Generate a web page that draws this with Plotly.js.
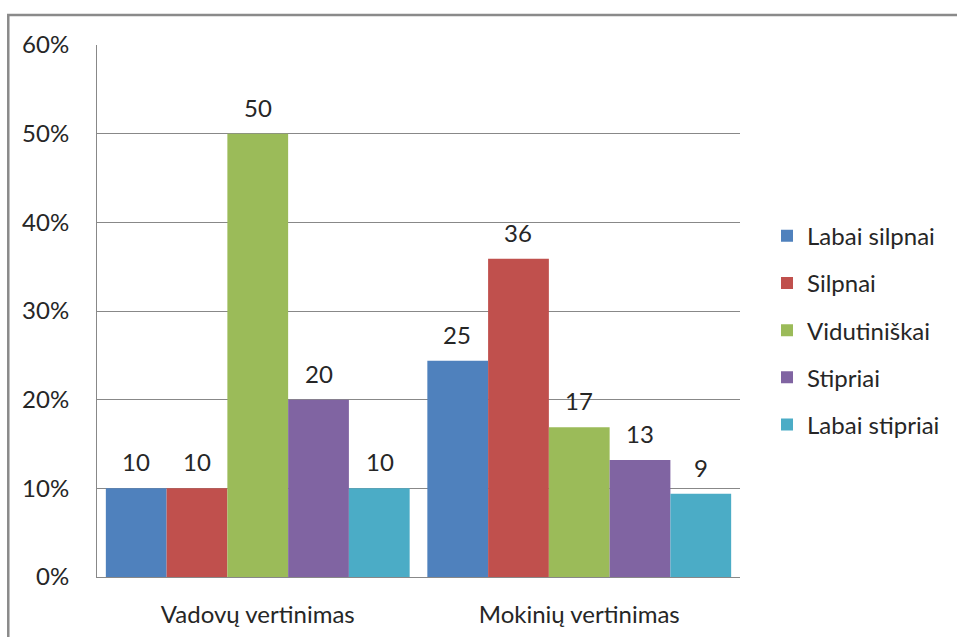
<!DOCTYPE html>
<html>
<head>
<meta charset="utf-8">
<script src="https://cdn.plot.ly/plotly-3.0.1.min.js"></script>
<style>
  html, body { margin: 0; padding: 0; background: #fff; }
  #chart { width: 957px; height: 637px; }
</style>
</head>
<body>
<div id="chart"></div>
<script>
const categories = ['Vadovų vertinimas', 'Mokinių vertinimas'];
const seriesNames = ['Labai silpnai', 'Silpnai', 'Vidutiniškai', 'Stipriai', 'Labai stipriai'];
const labaiSilpnai = [10, 24.4];
const silpnai = [10, 35.9];
const vidutiniskai = [50, 16.9];
const stipriai = [20, 13.2];
const labaiStipriai = [10, 9.4];
const labaiSilpnaiLabels = ['10', '25'];
const silpnaiLabels = ['10', '36'];
const vidutiniskaiLabels = ['50', '17'];
const stipriaiLabels = ['20', '13'];
const labaiStipriaiLabels = ['10', '9'];
const yTicks = [0, 10, 20, 30, 40, 50, 60];
const yTickLabels = ['0%', '10%', '20%', '30%', '40%', '50%', '60%'];

const seriesValues = [labaiSilpnai, silpnai, vidutiniskai, stipriai, labaiStipriai];
const seriesLabels = [labaiSilpnaiLabels, silpnaiLabels, vidutiniskaiLabels, stipriaiLabels, labaiStipriaiLabels];
const colors = ['#4F81BD', '#C0504D', '#9BBB59', '#8064A2', '#4BACC6'];

const W = 957, H = 637;
const margin = { l: 97, r: 215, t: 45, b: 60, pad: 0 };
const bargap = 0.055;
const font = 'Lato, "Noto Sans", sans-serif';
const fontSize = 24;
const textColor = '#262626';
const gray = '#888888';

// bar width in px, used to place the value labels over each bar
const plotW = W - margin.l - margin.r;
const barW = plotW / categories.length * (1 - bargap) / seriesNames.length;

const traces = seriesNames.map((name, i) => ({
    x: categories,
    y: seriesValues[i],
    type: 'bar',
    name: name,
    legendgroup: 'g' + i,
    marker: { color: colors[i], line: { width: 0 } },
    hoverinfo: 'skip'
}));

const annotations = [];
seriesNames.forEach((name, i) => {
    categories.forEach((cat, j) => {
        annotations.push({
            x: cat,
            y: seriesValues[i][j],
            xref: 'x',
            yref: 'y',
            text: seriesLabels[i][j],
            showarrow: false,
            xanchor: 'center',
            yanchor: 'bottom',
            xshift: (i - 2) * barW,
            yshift: 10,
            font: { family: font, size: fontSize, color: textColor }
        });
    });
});

const layout = {
    width: W,
    height: H,
    margin: margin,
    paper_bgcolor: '#fff',
    plot_bgcolor: '#fff',
    font: { family: font, size: fontSize, color: textColor },
    barmode: 'group',
    bargap: bargap,
    bargroupgap: 0,
    showlegend: true,
    legend: {
        x: 1.042,
        xanchor: 'left',
        y: 0.464,
        yanchor: 'middle',
        traceorder: 'grouped',
        tracegroupgap: 13,
        itemwidth: 30,
        font: { family: font, size: fontSize, color: textColor },
        bgcolor: 'rgba(0,0,0,0)'
    },
    xaxis: {
        type: 'category',
        showline: true,
        linecolor: gray,
        linewidth: 1,
        ticks: '',
        ticklabelstandoff: 16,
        showgrid: false,
        tickfont: { family: font, size: fontSize, color: textColor }
    },
    yaxis: {
        range: [0, 60],
        tickmode: 'array',
        tickvals: yTicks,
        ticktext: yTickLabels,
        showline: true,
        linecolor: gray,
        linewidth: 1,
        showgrid: true,
        gridcolor: gray,
        gridwidth: 1,
        zeroline: false,
        ticks: '',
        ticklabelstandoff: 22,
        tickfont: { family: font, size: fontSize, color: textColor }
    },
    annotations: annotations,
    shapes: [{
        type: 'rect',
        xref: 'paper',
        yref: 'paper',
        x0: (8 - margin.l) / plotW,
        x1: 1.6,
        y0: -0.3,
        y1: (H - margin.b - 15) / (H - margin.t - margin.b),
        line: { color: '#8a8a8a', width: 2.5 },
        fillcolor: 'rgba(0,0,0,0)',
        layer: 'below'
    }]
};

Plotly.newPlot('chart', traces, layout, { displayModeBar: false, staticPlot: true });
</script>
</body>
</html>
